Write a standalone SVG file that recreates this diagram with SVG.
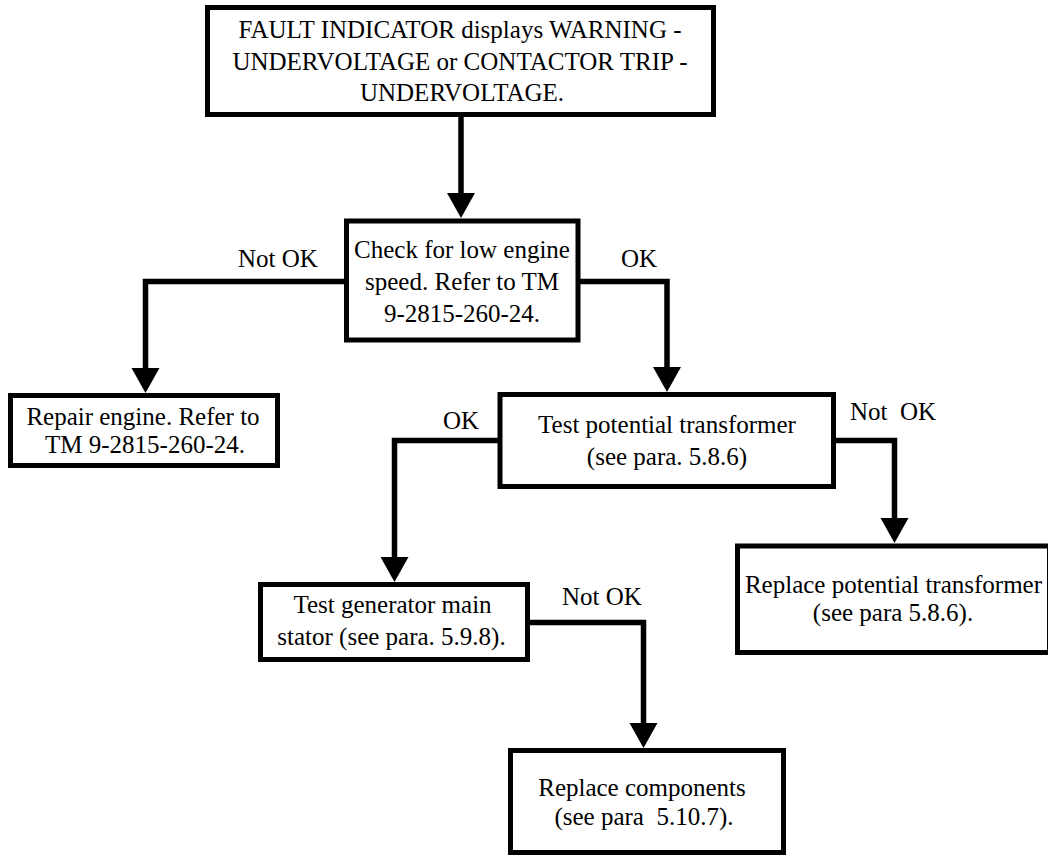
<svg xmlns="http://www.w3.org/2000/svg" width="1048" height="856" viewBox="0 0 1048 856">
<style>
.box{fill:#fff;stroke:#000;stroke-width:5}
.conn{fill:none;stroke:#000;stroke-width:5.5;stroke-linejoin:miter}
text{font-family:"Liberation Serif","Times New Roman",serif;font-size:25px;fill:#000}
.c{text-anchor:middle}
</style>
<defs>
<marker id="ah" markerUnits="userSpaceOnUse" markerWidth="25" markerHeight="28" viewBox="0 0 25 28" refX="0" refY="14" orient="auto" overflow="visible">
<path d="M0,0 L25,14 L0,28 z" fill="#000"/>
</marker>
</defs>
<rect x="0" y="0" width="1048" height="856" fill="#fff"/>
<g id="connectors">
<path class="conn" d="M461,117 V193" marker-end="url(#ah)"/>
<path class="conn" d="M346.5,281.5 H145.5 V368" marker-end="url(#ah)"/>
<path class="conn" d="M578,281.5 H667 V367" marker-end="url(#ah)"/>
<path class="conn" d="M500,440.5 H394.5 V557" marker-end="url(#ah)"/>
<path class="conn" d="M833.5,440.5 H894.5 V518" marker-end="url(#ah)"/>
<path class="conn" d="M527.5,622.5 H643.5 V723" marker-end="url(#ah)"/>
<text x="238" y="267">Not OK</text>
<text x="621" y="267">OK</text>
<text x="443" y="429">OK</text>
<text x="850" y="420" xml:space="preserve">Not  OK</text>
<text x="562" y="605">Not OK</text>
</g>
<g id="n1">
<rect class="box" x="207.5" y="7.5" width="506" height="107"/>
<text class="c" x="460" y="37.5">FAULT INDICATOR displays WARNING -</text>
<text class="c" x="460" y="69.5">UNDERVOLTAGE or CONTACTOR TRIP -</text>
<text class="c" x="462" y="100.5">UNDERVOLTAGE.</text>
</g>
<g id="n2">
<rect class="box" x="346.5" y="221" width="231.5" height="119"/>
<text class="c" x="462" y="258">Check for low engine</text>
<text class="c" x="462" y="290">speed. Refer to TM</text>
<text class="c" x="462" y="322">9-2815-260-24.</text>
</g>
<g id="n3">
<rect class="box" x="10.5" y="395.5" width="267" height="70"/>
<text class="c" x="143" y="425">Repair engine. Refer to</text>
<text class="c" x="145" y="453">TM 9-2815-260-24.</text>
</g>
<g id="n4">
<rect class="box" x="500" y="394.5" width="333.5" height="92"/>
<text class="c" x="667" y="433">Test potential transformer</text>
<text class="c" x="667" y="465">(see para. 5.8.6)</text>
</g>
<g id="n5">
<rect class="box" x="260.5" y="584.5" width="267" height="75"/>
<text class="c" x="392.5" y="613">Test generator main</text>
<text class="c" x="391.5" y="645">stator (see para. 5.9.8).</text>
</g>
<g id="n6">
<rect class="box" x="737.5" y="546" width="312" height="106.5"/>
<text class="c" x="893.5" y="593">Replace potential transformer</text>
<text class="c" x="893" y="621">(see para 5.8.6).</text>
</g>
<g id="n7">
<rect class="box" x="510.5" y="750.5" width="273" height="102"/>
<text class="c" x="642" y="796">Replace components</text>
<text class="c" x="644" y="825" xml:space="preserve">(see para  5.10.7).</text>
</g>
</svg>
